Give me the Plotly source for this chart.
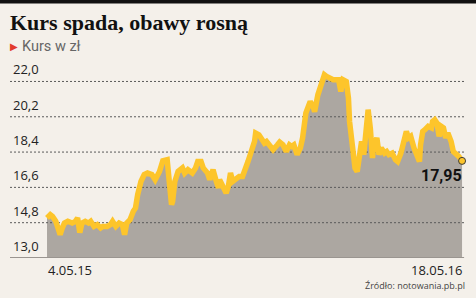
import plotly.graph_objects as go

# ---- data ----
start_label = "4.05.15"
end_label = "18.05.16"
last_label = "17,95"

# day offsets from 4.05.15
days = [0, 3, 5, 8, 10, 12, 14, 16, 19, 23, 26, 28, 30, 32, 35, 38, 40, 43, 46, 49,
        51, 55, 58, 60, 63, 66, 69, 71, 73, 76, 79, 81, 83, 86, 89, 92, 96, 99, 103, 106,
        110, 113, 114, 115, 117, 120, 124, 126, 129, 133, 136, 138, 141, 143, 147, 149, 152, 155, 157, 158,
        161, 164, 166, 168, 170, 173, 176, 179, 181, 184, 187, 190, 191, 194, 197, 199, 201, 204, 207, 211,
        213, 216, 219, 222, 224, 226, 229, 232, 234, 237, 241, 244, 245, 248, 250, 252, 254, 256, 259, 262,
        266, 267, 269, 271, 274, 276, 277, 279, 282, 284, 286, 288, 290, 292, 294, 296, 298, 299, 302, 304,
        306, 309, 311, 313, 316, 319, 321, 324, 327, 329, 331, 333, 336, 339, 341, 342, 344, 346, 349, 352,
        353, 355, 357, 359, 361, 363, 365, 367, 370, 372, 374, 377, 380]

kurs = [15.04, 15.21, 15.12, 14.87, 14.54, 14.19, 14.54, 14.78, 14.87, 14.78, 14.87, 15.04, 14.29, 14.78, 14.87, 14.78, 14.87, 14.61, 14.70, 14.53,
        14.61, 14.61, 14.70, 14.87, 14.61, 14.78, 14.70, 14.19, 14.78, 14.95, 15.38, 15.55, 16.23, 16.90, 17.25, 17.33, 17.25, 16.99, 17.41, 17.96,
        18.01, 16.57, 15.72, 15.88, 16.90, 17.41, 17.59, 17.33, 17.50, 17.33, 17.59, 17.92, 17.92, 17.59, 17.33, 16.99, 17.50, 16.90, 16.57, 16.99,
        16.65, 16.31, 16.65, 17.33, 16.90, 17.08, 17.16, 17.16, 17.41, 17.92, 18.43, 18.94, 19.37, 19.28, 19.03, 18.86, 18.94, 18.69, 18.52, 18.77,
        18.91, 18.77, 18.43, 18.77, 18.69, 18.77, 18.27, 18.61, 19.12, 20.39, 20.98, 20.66, 20.46, 21.32, 21.71, 22.00, 22.34, 22.26, 22.17, 22.09,
        22.09, 22.09, 21.49, 22.09, 22.00, 21.15, 19.96, 18.77, 17.59, 17.41, 18.43, 18.94, 18.27, 19.63, 20.56, 19.63, 18.10, 18.69, 19.12, 18.27,
        18.61, 18.35, 18.43, 18.27, 18.35, 18.01, 17.92, 18.35, 19.12, 19.45, 19.12, 19.20, 18.61, 18.27, 17.92, 18.77, 19.45, 19.54, 19.71, 19.63,
        19.96, 20.05, 19.88, 19.20, 19.71, 19.63, 19.12, 19.37, 18.94, 18.43, 18.35, 18.18, 17.95]

y_ticks = [13.0, 14.8, 16.6, 18.4, 20.2, 22.0]
y_tick_labels = ["13,0", "14,8", "16,6", "18,4", "20,2", "22,0"]

# ---- style ----
BG = "#f4f0ea"
FILL = "#aca7a1"
YELLOW = "#fdc52b"
GRID = "#5a5a5a"
x_range = [-33.9, 382.7]
y_range = [13.0, 22.89]

fig = go.Figure()

fig.add_trace(go.Scatter(x=days, y=kurs, mode="lines", line=dict(width=0, color=FILL),
                         fill="tozeroy", fillcolor=FILL, hoverinfo="skip", showlegend=False))

for t in y_ticks[1:]:
    fig.add_trace(go.Scatter(x=x_range, y=[t, t], mode="lines",
                             line=dict(color=GRID, width=1, dash="2px,2px"),
                             hoverinfo="skip", showlegend=False))

fig.add_trace(go.Scatter(x=days, y=kurs, mode="lines",
                         line=dict(color=YELLOW, width=5.5), showlegend=False))

fig.add_trace(go.Scatter(x=[days[-1]], y=[kurs[-1]], mode="markers", cliponaxis=False,
                         marker=dict(size=7, color=YELLOW, line=dict(color="#3a3a3a", width=1)),
                         showlegend=False))

ann = []
for t, lab in zip(y_ticks, y_tick_labels):
    ann.append(dict(x=0, xref="paper", y=t, yref="y", text=lab, showarrow=False,
                    xanchor="left", yanchor="bottom", xshift=1, yshift=1,
                    font=dict(family="Open Sans", size=13, color="#222")))

ann.append(dict(x=days[-1], y=kurs[-1], xref="x", yref="y", text="<b>%s</b>" % last_label,
                showarrow=False, xanchor="right", yanchor="top", xshift=2, yshift=-3,
                font=dict(family="Roboto", size=16, color="#111")))
ann.append(dict(x=days[0], xref="x", y=0, yref="paper", text=start_label, showarrow=False,
                xanchor="left", yanchor="top", xshift=-1, yshift=-1,
                font=dict(family="Open Sans", size=13, color="#222")))
ann.append(dict(x=days[-1], xref="x", y=0, yref="paper", text=end_label, showarrow=False,
                xanchor="right", yanchor="top", xshift=2, yshift=-1,
                font=dict(family="Open Sans", size=13, color="#222")))
ann.append(dict(x=1, xref="paper", y=0, yref="paper", text="Źródło: notowania.pb.pl",
                showarrow=False, xanchor="right", yanchor="top", xshift=2, yshift=-19,
                font=dict(family="Open Sans", size=9, color="#444")))
ann.append(dict(x=0, xref="paper", y=1, yref="paper", text="<b>Kurs spada, obawy rosną</b>",
                showarrow=False, xanchor="left", yanchor="middle", xshift=-2, yshift=41.5,
                font=dict(family="Liberation Serif", size=22, color="#111")))
ann.append(dict(x=0, xref="paper", y=1, yref="paper", text="▶",
                showarrow=False, xanchor="left", yanchor="middle", xshift=-2, yshift=18,
                font=dict(family="DejaVu Sans", size=10, color="#e23b2e")))
ann.append(dict(x=0, xref="paper", y=1, yref="paper", text="Kurs w zł",
                showarrow=False, xanchor="left", yanchor="middle", xshift=10, yshift=18,
                font=dict(family="Roboto", size=14.5, color="#666")))

shapes = [
    dict(type="line", xref="paper", yref="y", x0=0, x1=0.998, y0=13.0, y1=13.0,
         line=dict(color="#9a9590", width=2), layer="above"),
    dict(type="rect", xref="paper", yref="paper", x0=-0.05, x1=1.05, y0=1.312, y1=1.4,
         line=dict(width=0), fillcolor="#111", layer="above"),
]

fig.update_layout(
    width=476, height=298,
    margin=dict(l=10, r=11, t=64, b=40),
    paper_bgcolor=BG, plot_bgcolor=BG,
    xaxis=dict(range=x_range, visible=False, fixedrange=True),
    yaxis=dict(range=y_range, visible=False, fixedrange=True),
    annotations=ann, shapes=shapes, showlegend=False,
)

fig.write_html("out.html", config={"displayModeBar": False})
